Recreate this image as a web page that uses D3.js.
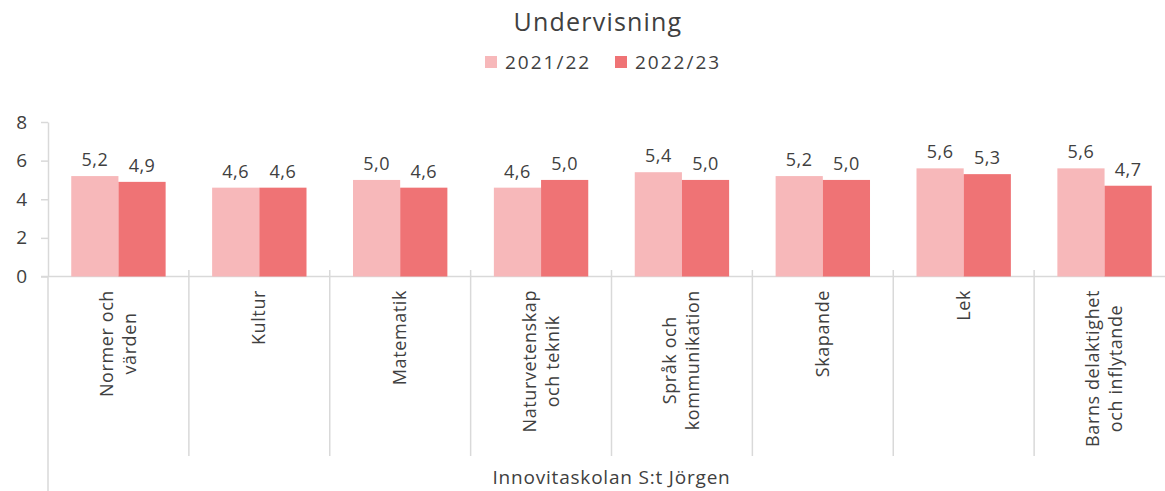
<!DOCTYPE html>
<html>
<head>
<meta charset="utf-8">
<script src="https://cdn.jsdelivr.net/npm/d3@7"></script>
<style>
  body { margin: 0; background: #fff; }
  text { font-family: "Open Sans", sans-serif; fill: #404040; }
</style>
</head>
<body>
<svg id="chart" width="1165" height="491"></svg>
<script>
// data
var categories = [
  ["Normer och", "värden"],
  ["Kultur"],
  ["Matematik"],
  ["Naturvetenskap", "och teknik"],
  ["Språk och", "kommunikation"],
  ["Skapande"],
  ["Lek"],
  ["Barns delaktighet", "och inflytande"]
];
var seriesNames = ["2021/22", "2022/23"];
var values2122 = [5.2, 4.6, 5.0, 4.6, 5.4, 5.2, 5.6, 5.6];
var values2223 = [4.9, 4.6, 4.6, 5.0, 5.0, 5.0, 5.3, 4.7];
var yTicks = [0, 2, 4, 6, 8];
var groupLabel = "Innovitaskolan S:t Jörgen";
var title = "Undervisning";

var colors = ["#f7b8ba", "#ef7375"];
var gridColor = "#d9d9d9";

var svg = d3.select("#chart");

var keys = categories.map(function (d) { return d.join(" "); });
var rows = keys.map(function (k, i) {
  return { key: k, lines: categories[i], vals: [values2122[i], values2223[i]] };
});

// scales
var x = d3.scaleBand().domain(keys).range([48, 1175]).padding(0);
var x1 = d3.scaleBand().domain(seriesNames)
  .range([x.bandwidth() * 0.165, x.bandwidth() * 0.835]).padding(0);
var y = d3.scaleLinear().domain([0, 8]).range([276.5, 122]);

// title
svg.append("text")
  .attr("x", 598).attr("y", 31)
  .attr("text-anchor", "middle")
  .style("font-size", "25px")
  .style("letter-spacing", "1.2px")
  .text(title);

// legend
var legendX = [485, 615];
var legend = svg.selectAll(".legend")
  .data(seriesNames)
  .join("g")
  .attr("class", "legend")
  .attr("transform", function (d, i) { return "translate(" + legendX[i] + ",56)"; });
legend.append("rect")
  .attr("width", 12).attr("height", 12)
  .attr("fill", function (d, i) { return colors[i]; });
legend.append("text")
  .attr("x", 20).attr("y", 12.5)
  .style("font-size", "19px")
  .style("letter-spacing", "2px")
  .text(function (d) { return d; });

// y axis
var yAxis = svg.append("g")
  .attr("transform", "translate(48,0)")
  .call(d3.axisLeft(y).tickValues(yTicks).tickSize(7).tickPadding(14).tickSizeOuter(0));
yAxis.select(".domain").attr("stroke", gridColor).attr("stroke-width", 1.5);
yAxis.selectAll(".tick line").attr("stroke", gridColor).attr("stroke-width", 1.5);
yAxis.selectAll(".tick text")
  .style("font-size", "19px")
  .style("font-family", "Open Sans, sans-serif")
  .attr("fill", "#404040");

// extended axis lines
svg.append("line")
  .attr("x1", 48).attr("x2", 48)
  .attr("y1", 276.5).attr("y2", 491)
  .attr("stroke", gridColor).attr("stroke-width", 1.5);
svg.append("line")
  .attr("x1", 41).attr("x2", 1165)
  .attr("y1", y(0)).attr("y2", y(0))
  .attr("stroke", gridColor).attr("stroke-width", 1.5);

// category separators
svg.selectAll(".sep")
  .data(keys.slice(1))
  .join("line")
  .attr("class", "sep")
  .attr("x1", function (d) { return x(d); })
  .attr("x2", function (d) { return x(d); })
  .attr("y1", 270).attr("y2", 456)
  .attr("stroke", gridColor).attr("stroke-width", 1.5);

// bars
var groups = svg.selectAll(".grp")
  .data(rows)
  .join("g")
  .attr("class", "grp")
  .attr("transform", function (d) { return "translate(" + x(d.key) + ",0)"; });

groups.selectAll("rect")
  .data(function (d) { return d.vals.map(function (v, i) { return { s: seriesNames[i], v: v, i: i }; }); })
  .join("rect")
  .attr("x", function (d) { return x1(d.s); })
  .attr("width", x1.bandwidth())
  .attr("y", function (d) { return y(d.v); })
  .attr("height", function (d) { return y(0) - y(d.v); })
  .attr("fill", function (d) { return colors[d.i]; });

groups.selectAll(".val")
  .data(function (d) { return d.vals.map(function (v, i) { return { s: seriesNames[i], v: v }; }); })
  .join("text")
  .attr("class", "val")
  .attr("x", function (d) { return x1(d.s) + x1.bandwidth() / 2; })
  .attr("y", function (d) { return y(d.v) - 10; })
  .attr("text-anchor", "middle")
  .style("font-size", "18px")
  .style("letter-spacing", "0.5px")
  .text(function (d) { return d.v.toFixed(1).replace(".", ","); });

// category labels (rotated)
var lineH = 23;
groups.each(function (d) {
  var g = d3.select(this);
  var cx = x.bandwidth() / 2;
  var n = d.lines.length;
  var lab = g.append("g");
  var texts = lab.selectAll("text")
    .data(d.lines)
    .join("text")
    .style("font-size", "18px")
    .style("letter-spacing", "0.6px")
    .attr("text-anchor", "middle")
    .text(function (t) { return t; });
  var maxLen = d3.max(texts.nodes(), function (n) { return n.getComputedTextLength(); });
  texts.attr("transform", function (t, i) {
    var lx = cx + (i - (n - 1) / 2) * lineH + 6;
    var ly = 290 + maxLen / 2;
    return "translate(" + lx + "," + ly + ") rotate(-90)";
  });
});

// group label
svg.append("text")
  .attr("x", (48 + 1175) / 2).attr("y", 484)
  .attr("text-anchor", "middle")
  .style("font-size", "19px")
  .style("letter-spacing", "0.8px")
  .text(groupLabel);
</script>
</body>
</html>
